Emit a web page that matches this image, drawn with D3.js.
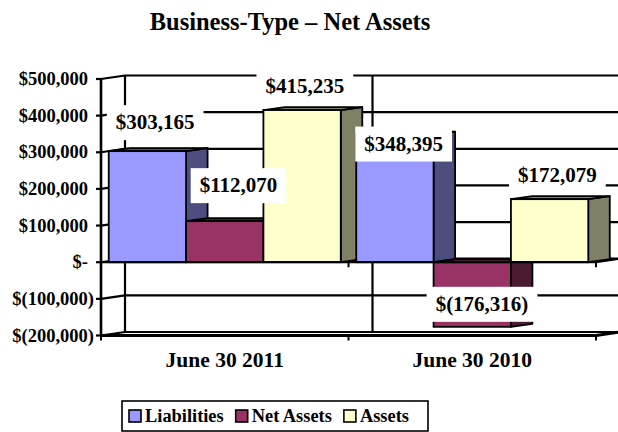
<!DOCTYPE html>
<html>
<head>
<meta charset="utf-8">
<script src="https://cdn.jsdelivr.net/npm/d3@7"></script>
<style>
  body { margin: 0; background: #fff; }
  text { font-family: "Liberation Serif", "Times New Roman", serif; font-weight: bold; fill: #000; }
</style>
</head>
<body>
<script>
const title = "Business-Type – Net Assets";
const categories = ["June 30 2011", "June 30 2010"];
const seriesNames = ["Liabilities", "Net Assets", "Assets"];
const liabilities = [303165, 348395];
const netAssets = [112070, -176316];
const assets = [415235, 172079];
const yTicks = [-200000, -100000, 0, 100000, 200000, 300000, 400000, 500000];

// label nudges in px (hand placed in the original), [series][category]
const labelNudge = [[[-3, -29], [-2, 9]], [[3, -36], [-1, -23]], [[-8, -24], [-3, -24]]];

const colors = {
  "Liabilities": { front: "#9999ff", side: "#4d4d80" },
  "Net Assets": { front: "#993366", side: "#4d1a33" },
  "Assets": { front: "#ffffcc", side: "#808066" }
};

const W = 618, H = 432;
const wallDx = 24, wallDy = -3.5;   // back wall offset
const barDx = 21.5, barDy = -3;     // bar depth

const svg = d3.select("body")
    .append("svg")
    .attr("width", W)
    .attr("height", H);

const x0 = d3.scaleBand().domain(categories).range([101, 596]).paddingInner(0);
const x1 = d3.scaleBand().domain(seriesNames).range([0, x0.bandwidth()])
    .paddingInner(0).paddingOuter(0.1);
const y = d3.scaleLinear().domain([-200000, 500000]).range([335.5, 79]);

const line = (pts) => "M" + pts.map(p => p.join(",")).join("L");
const stroke = (sel, w) => sel.attr("fill", "none").attr("stroke", "#000")
    .attr("stroke-width", w).attr("stroke-linejoin", "round");

// title
svg.append("text")
    .attr("x", 290)
    .attr("y", 30)
    .attr("text-anchor", "middle")
    .style("font-size", "24.5px")
    .text(title);

// walls and gridlines
const grid = svg.append("g");
const left = x0.range()[0], right = x0.range()[1];

yTicks.forEach(t => {
    grid.append("path")
        .attr("d", line([[left, y(t)], [left + wallDx, y(t) + wallDy], [right + wallDx, y(t) + wallDy]]))
        .call(stroke, 2.2);
    grid.append("path")
        .attr("d", line([[left - 5, y(t)], [left, y(t)]]))
        .call(stroke, 2.2);
});

const bounds = [left, ...categories.map(c => x0(c) + x0.bandwidth())];
bounds.forEach(b => {
    grid.append("path")
        .attr("d", line([[b + wallDx, y(500000) + wallDy], [b + wallDx, y(-200000) + wallDy]]))
        .call(stroke, 2.2);
});

// left axis
grid.append("path")
    .attr("d", line([[left, y(500000)], [left, y(-200000)]]))
    .call(stroke, 2.6);

// floor front edge
grid.append("path")
    .attr("d", line([[left, y(-200000)], [right, y(-200000)], [right + wallDx, y(-200000) + wallDy]]))
    .call(stroke, 3);

// category ticks
bounds.forEach(b => {
    [0, -200000].forEach(v => {
        grid.append("path")
            .attr("d", line([[b, y(v)], [b, y(v) + 5]]))
            .call(stroke, 2);
    });
});

// y axis labels
const fmt = d3.format(",");
const yLabel = (v) => v === 0 ? "$-" : v < 0 ? "$(" + fmt(-v) + ")" : "$" + fmt(v);
svg.append("g").selectAll("text")
    .data(yTicks)
    .enter()
    .append("text")
    .attr("x", (d) => d < 0 ? 94 : 88)
    .attr("y", (d) => y(d) + 6)
    .attr("text-anchor", "end")
    .style("font-size", "18.5px")
    .text(yLabel);

// bars (drawn left to right so front faces hide earlier side faces)
const values = [liabilities, netAssets, assets];
const bars = [];
categories.forEach((c, ci) => {
    seriesNames.forEach((s, si) => {
        bars.push({ c, s, ci, si, v: values[si][ci] });
    });
});

const barG = svg.append("g");
bars.forEach(d => {
    const bx = x0(d.c) + x1(d.s);
    const bw = x1.bandwidth();
    const yTop = y(Math.max(d.v, 0));
    const yBot = y(Math.min(d.v, 0));
    const g = barG.append("g");
    g.append("path")
        .attr("d", line([[bx + bw, yTop], [bx + bw + barDx, yTop + barDy], [bx + bw + barDx, yBot + barDy], [bx + bw, yBot]]) + "Z")
        .attr("fill", colors[d.s].side)
        .attr("stroke", "#000").attr("stroke-width", 1.8).attr("stroke-linejoin", "round");
    g.append("path")
        .attr("d", line([[bx, yTop], [bx + barDx, yTop + barDy], [bx + bw + barDx, yTop + barDy], [bx + bw, yTop]]) + "Z")
        .attr("fill", colors[d.s].side)
        .attr("stroke", "#000").attr("stroke-width", 1.8).attr("stroke-linejoin", "round");
    g.append("rect")
        .attr("x", bx)
        .attr("y", yTop)
        .attr("width", bw)
        .attr("height", yBot - yTop)
        .attr("fill", colors[d.s].front)
        .attr("stroke", "#000").attr("stroke-width", 1.8);
});

// front zero line of the category axis
svg.append("path")
    .attr("d", line([[left, y(0)], [right, y(0)], [right + wallDx, y(0) + wallDy]]))
    .call(stroke, 2.2);

// category labels
svg.append("g").selectAll("text")
    .data(categories)
    .enter()
    .append("text")
    .attr("x", (d) => x0(d) + x0.bandwidth() / 2)
    .attr("y", 367)
    .attr("text-anchor", "middle")
    .style("font-size", "21.5px")
    .text((d) => d);

// data labels with white boxes
const lblG = svg.append("g");
bars.forEach(d => {
    const bx = x0(d.c) + x1(d.s);
    const cx = bx + x1.bandwidth() / 2 + barDx / 2 + labelNudge[d.si][d.ci][0];
    const cy = y(d.v) + labelNudge[d.si][d.ci][1];
    const g = lblG.append("g");
    const rect = g.append("rect").attr("fill", "#fff");
    const t = g.append("text")
        .attr("x", cx)
        .attr("y", cy + 7)
        .attr("text-anchor", "middle")
        .style("font-size", "21px")
        .text(yLabel(d.v));
    const tw = t.node().getComputedTextLength();
    rect.attr("x", cx - tw / 2 - 9)
        .attr("y", cy - 17)
        .attr("width", tw + 18)
        .attr("height", 35);
});

// legend
const leg = svg.append("g");
leg.append("rect")
    .attr("x", 122).attr("y", 401)
    .attr("width", 306).attr("height", 30)
    .attr("fill", "#fff").attr("stroke", "#000").attr("stroke-width", 1.6);
let lx = 129;
seriesNames.forEach(s => {
    leg.append("rect")
        .attr("x", lx).attr("y", 410)
        .attr("width", 12).attr("height", 12)
        .attr("fill", colors[s].front)
        .attr("stroke", "#000").attr("stroke-width", 1.6);
    const t = leg.append("text")
        .attr("x", lx + 16)
        .attr("y", 422)
        .style("font-size", "18.4px")
        .text(s);
    lx += 16 + t.node().getComputedTextLength() + 12;
});
</script>
</body>
</html>
